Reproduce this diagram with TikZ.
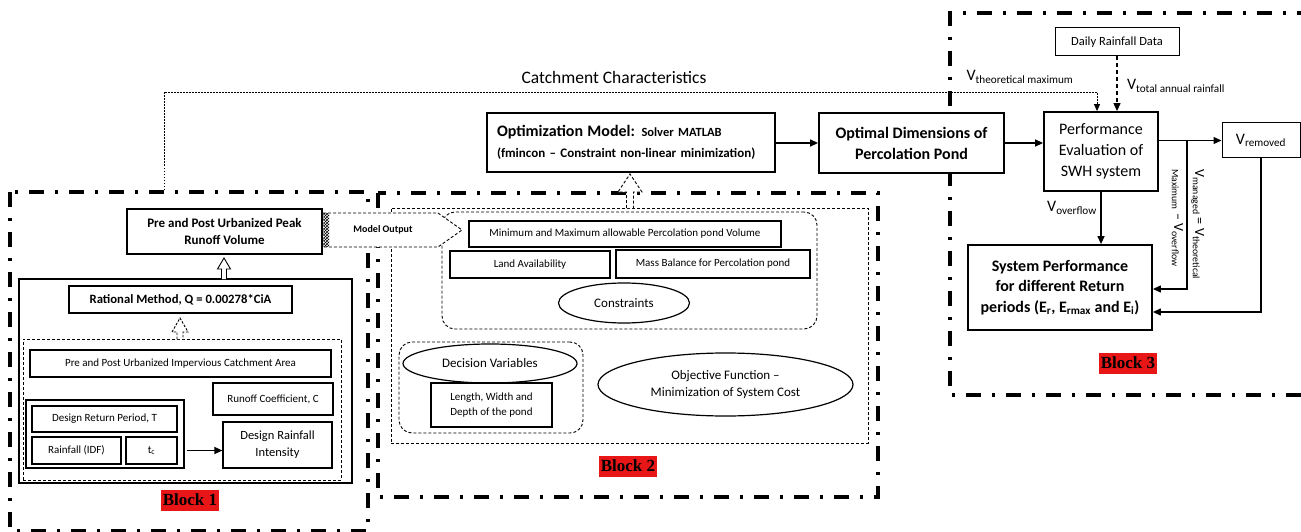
\documentclass[tikz,border=0pt]{standalone}
\usepackage{fontspec}
\setmainfont{Carlito}
\newfontfamily\tnr{Liberation Serif}
\usetikzlibrary{arrows.meta,calc,shapes.geometric,patterns}
\newcommand{\fsz}[2]{\fontsize{#1}{#2}\selectfont}
\definecolor{blkred}{RGB}{232,22,22}
\tikzset{
  sz/.style 2 args={minimum width=#1pt,minimum height=#2pt},
  bx/.style={draw,line width=1.2pt,fill=white,inner sep=1pt,align=center,font=\fsz{11}{13}},
  bbx/.style={bx,line width=1.8pt},
  dbox/.style={draw,line width=0.9pt,dash pattern=on 3pt off 2pt},
  blk/.style={line width=3.5pt,dash pattern=on 15pt off 11pt on 3pt off 11pt},
  el/.style={draw,ellipse,line width=1.2pt,fill=white,inner sep=0pt,align=center,font=\fsz{13}{17}},
  blabel/.style={fill=blkred,inner sep=2pt,minimum height=21pt,font=\tnr\bfseries\fsz{17}{19}},
  tip/.style={-{Triangle[length=8pt,width=7pt]}},
  arr/.style={line width=1.3pt,tip},
  dotl/.style={line width=0.7pt,dash pattern=on 1.5pt off 1.5pt},
  vlab/.style={inner sep=0pt,font=\fsz{16}{20}},
  hollow/.style={draw,line width=0.9pt,fill=white,line join=miter}
}
\begin{document}
\begin{tikzpicture}[x=1pt,y=-1pt]
\useasboundingbox (0,0) rectangle (1301,532);
% block borders
\draw[blk] (10,192) rectangle (368,531);
\draw[blk] (378,193) rectangle (878,497);
\draw[blk] (1312,13) -- (950,13) -- (950,395) -- (1312,395);

% catchment characteristics line
\coordinate (cA) at (164,190);
\coordinate (cC) at (1097,92);
\node[inner sep=0pt,font=\fsz{17.5}{20}] (catl) at (614,77) {Catchment Characteristics};

% top row
\node[bbx,sz={288}{59},text width=268pt,align=left,font=\bfseries\fsz{13}{21}] (opt) at (631,142.5)
  {{\fsz{16}{21}Optimization Model:}\fsz{12.5}{21} Solver MATLAB\\
   \fsz{13}{21}(fmincon -- Constraint non-linear minimization)};
\node[bbx,sz={185}{60},font=\bfseries\fsz{16}{21}] (optimal) at (911.5,143) {Optimal Dimensions of\\Percolation Pond};
\node[bbx,sz={114}{79},font=\fsz{16}{21}] (perf) at (1101,151.5) {Performance\\Evaluation of\\SWH system};
\node[bx,sz={124}{28},line width=1pt,font=\fsz{12.5}{15}] (daily) at (1117,42) {Daily Rainfall Data};
\node[bx,sz={78}{35},line width=1pt,font=\fsz{16}{20}] (vrem) at (1261,140.5) {V\textsubscript{removed}};
\node[bbx,sz={184}{85},font=\bfseries\fsz{16}{20.5}] (sysp) at (1060,287.5)
  {System Performance\\for different Return\\periods (E\textsubscript{r}, E\textsubscript{rmax} and E\textsubscript{i})};

\draw[dotl,-{Triangle[length=7pt,width=6pt]}] (cA) |- (cC) -- (cC |- perf.north);
\draw[line width=1.1pt,dash pattern=on 4pt off 3pt,tip] (daily.south) -- (perf.north -| daily.south);
\node[vlab] (vth) at (1020,77) {V\textsubscript{theoretical maximum}};
\node[vlab] (vtot) at (1176,86) {V\textsubscript{total annual rainfall}};

\draw[arr] (opt.east |- optimal.west) -- (optimal.west);
\draw[arr] (optimal.east) -- (perf.west |- optimal.east);
\draw[arr] (perf.east |- vrem.west) -- (vrem.west);
\coordinate (br) at (1187,140.5);
\draw[arr] (br) |- ($(sysp.east)+(0,1.5)$);
\draw[arr] (vrem.south) |- ($(sysp.east)+(0,24.5)$);
\draw[arr] (perf.south) -- (sysp.north -| perf.south);
\node[vlab] (vov) at (1072,208) {V\textsubscript{overflow}};
\node[inner sep=0pt,rotate=-90,align=left,font=\fsz{14}{21}] (vman) at (1188,224.5)
  {V\textsubscript{managed} = V\textsubscript{theoretical}\\\textsubscript{Maximum} -- V\textsubscript{overflow}};
\node[blabel] (bl3) at (1128,363) {Block 3};

% ---------------- Block 1 ----------------
\node[bbx,sz={195}{45},font=\bfseries\fsz{13}{17}] (peak) at (224.5,231.5) {Pre and Post Urbanized Peak\\Runoff Volume};
\node[draw,line width=1.3pt,sz={333}{204}] (b1s) at (185.5,381) {};
\node[dbox,sz={318}{141}] (b1d) at (182,409.5) {};
\node[bx,sz={223}{27},line width=1.5pt,font=\bfseries\fsz{12.7}{14}] (rat) at (180.5,299.5) {Rational Method, Q = 0.00278*CiA};
\node[bx,sz={301}{27}] (imp) at (180.5,363.5) {Pre and Post Urbanized Impervious Catchment Area};
\node[bx,sz={120}{32}] (roc) at (273,399) {Runoff Coefficient, C};
\node[draw,line width=1.2pt,sz={158}{68}] (grp) at (105,434) {};
\node[bx,sz={145}{26}] (drp) at (104.5,419) {Design Return Period, T};
\node[bx,sz={89}{27}] (rain) at (76.5,450.5) {Rainfall (IDF)};
\node[bx,sz={51}{27}] (tc) at (151.5,450.5) {t\textsubscript{c}};
\node[bx,sz={109}{46},font=\fsz{12.5}{17}] (dri) at (277.5,445) {Design Rainfall\\Intensity};
\draw[arr,shorten <=2pt] (grp.east |- tc) -- (dri.west |- tc);
\node[blabel] (bl1) at (190,500) {Block 1};
% hollow arrows block 1
\draw[hollow] (221.5,279) -- (221.5,269) -- (217.5,269) -- (224,258) -- (230.5,269) -- (226.5,269) -- (226.5,279);
\draw[hollow,dash pattern=on 2.5pt off 1.5pt] (177,339) -- (177,332) -- (172,332) -- (180,318) -- (188,332) -- (183,332) -- (183,339);

% ---------------- Block 2 ----------------
\node[dbox,sz={477}{235}] (b2d) at (629.5,325.5) {};
\node[dbox,rounded corners=13pt,sz={375}{117}] (cg) at (629.5,270.5) {};
\node[bx,sz={312}{26}] (mm) at (625,234) {Minimum and Maximum allowable Percolation pond Volume};
\node[bx,sz={160}{27}] (land) at (530,264.5) {Land Availability};
\node[bx,sz={194}{28}] (mass) at (713,264) {Mass Balance for Percolation pond};
\node[el,sz={131}{40}] (cons) at (624,303) {Constraints};
\node[dbox,rounded corners=13pt,sz={184}{91}] (dg) at (491,387.5) {};
\node[el,sz={174}{39}] (dv) at (490,363.5) {Decision Variables};
\node[bx,sz={121}{44},font=\fsz{11}{15}] (lwd) at (491.5,405) {Length, Width and\\Depth of the pond};
\node[el,sz={255}{63}] (obj) at (725.5,384.5) {Objective Function --\\Minimization of System Cost};
\node[blabel] (bl2) at (628,466) {Block 2};
\draw[hollow,dash pattern=on 3pt off 2pt] (626.5,208) -- (626.5,192) -- (618,192) -- (630,174) -- (642,192) -- (633.5,192) -- (633.5,208);

% Model output arrow
\filldraw[fill=white,line width=0.9pt,dash pattern=on 3pt off 2pt] (323,213) -- (438,213) -- (462,230) -- (438,247) -- (323,247) -- cycle;
\fill[pattern=crosshatch] (323.5,213.5) rectangle (329,246.5);
\node[inner sep=0pt,font=\bfseries\fsz{10}{12}] (mo) at (383,230) {Model Output};
\end{tikzpicture}
\end{document}
